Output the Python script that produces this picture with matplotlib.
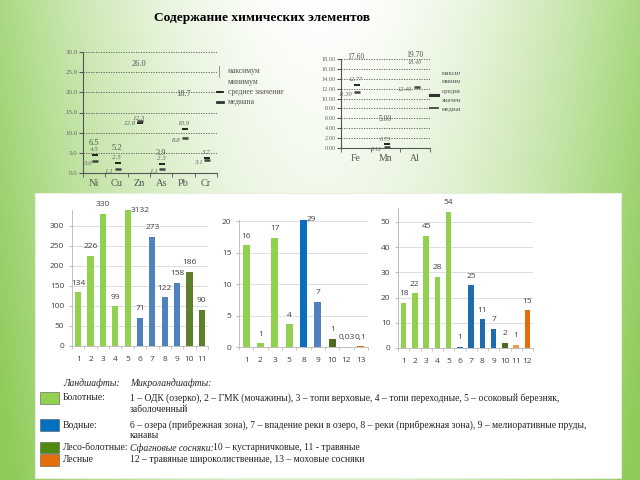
import numpy as np
import matplotlib
matplotlib.use('Agg')
import matplotlib.pyplot as plt
from matplotlib.patches import Rectangle

W, H = 640, 480
SERIF = 'Liberation Serif'
SANS = 'Open Sans'

# ---- top-left inset: heavy metals (max / mean / median)
tl_elements = ['Ni', 'Cu', 'Zn', 'As', 'Pb', 'Cr']
tl_max = [6.5, 5.2, 26.0, 3.9, 18.7, np.nan]
tl_mean = [4.5, 2.5, 12.3, 2.3, 10.9, 3.70]
tl_median = [3.0, 1.1, 12.8, 1.1, 8.8, 3.10]

# ---- top-right inset: Fe, Mn, Al
tr_elements = ['Fe', 'Mn', 'Al']
tr_max = [17.60, 5.0, 19.7]
tr_mean = [12.77, 0.73, 18.4]
tr_median = [11.30, 0.12, 12.4]

# ---- bottom bar charts
b1_cats = ['1', '2', '3', '4', '5', '6', '7', '8', '9', '10', '11']
b1_vals = [134, 226, 330, 99, 3132, 71, 273, 122, 158, 186, 90]
b1_lbls = ['134', '226', '330', '99', '3132', '71', '273', '122', '158', '186', '90']

b2_cats = ['1', '2', '3', '5', '8', '9', '10', '12', '13']
b2_vals = [16.2, 0.6, 17.4, 3.6, 29, 7.2, 1.3, 0.03, 0.1]
b2_lbls = ['16', '1', '17', '4', '29', '7', '1', '0,03', '0,1']

b3_cats = ['1', '2', '3', '4', '5', '6', '7', '8', '9', '10', '11', '12']
b3_vals = [18, 21.7, 44.5, 28.3, 54, 0.4, 24.8, 11.3, 7.6, 2.0, 1.2, 15]
b3_lbls = ['18', '22', '45', '28', '54', '1', '25', '11', '7', '2', '1', '15']

LG, BL, DB, OL, OR = '#92D050', '#4F81BD', '#0A6DBF', '#4F6B22', '#E46C0A'
b1_cols = [LG] * 5 + [BL] * 4 + ['#5F7F2C'] * 2
b2_cols = [LG] * 4 + [DB, BL, OL, OR, OR]
b3_cols = [LG] * 5 + ['#1F6BB0'] * 4 + [OL, '#F79646', OR]

fig = plt.figure(figsize=(6.4, 4.8), dpi=100)


def px_axes(x0, y0, x1, y1):
    return fig.add_axes([x0 / W, 1 - y1 / H, (x1 - x0) / W, (y1 - y0) / H])


def ftext(x, y, s, **kw):
    fig.text(x / W, 1 - y / H, s, **kw)


# background gradient
bg = fig.add_axes([0, 0, 1, 1], zorder=-10)
gx, gy = np.meshgrid(np.linspace(0, 1, 320), np.linspace(0, 1, 240))
t = np.clip(np.abs(gx - 0.5) * 2, 0, 1) ** 1.8 * 0.75 + gy * 0.3
t = np.clip(t, 0, 1)[..., None]
green = np.array([0.56, 0.80, 0.35])
bg.imshow((1 - t) + t * green, aspect='auto', extent=[0, 1, 0, 1])
bg.add_patch(Rectangle((35 / W, 1 - 478 / H), 586 / W, 285 / H,
                       facecolor='white', edgecolor='#e8f0dc', lw=0.8))
bg.set_xlim(0, 1)
bg.set_ylim(0, 1)
bg.axis('off')

ftext(262, 18, 'Содержание химических элементов', family=SERIF,
      fontsize=9.6, fontweight='bold', ha='center', va='center')


def stock_axes(rect, cats, vmax, vmean, vmed, ylim, yticks, fmt, fs):
    ax = px_axes(*rect)
    ax.patch.set_alpha(0)
    x = np.arange(len(cats))
    ax.set_xlim(-0.5, len(cats) - 0.5)
    ax.set_ylim(*ylim)
    for y in yticks[1:]:
        ax.axhline(y, color='#555555', lw=0.6, ls=(0, (1.5, 1.5)))
    ax.plot(x + 0.05, vmean, ls='none', marker='_', ms=4, mew=1.2, color='black')
    ax.plot(x + 0.05, vmed, ls='none', marker='_', ms=4, mew=1.8, color='#444444')
    for xi, a, m, d in zip(x, vmax, vmean, vmed):
        if not np.isnan(a):
            ax.text(xi, min(a, ylim[1]), fmt.format(a), fontsize=fs + 1, family=SERIF,
                    color='#555555', ha='center', va='bottom')
        top = m >= ylim[1] * 0.9
        ax.annotate(fmt.format(m), (xi, min(m, ylim[1])), xytext=(0, -1 if top else 2),
                    textcoords='offset points', fontsize=fs, family=SERIF,
                    style='italic', color='#666666', ha='center',
                    va='top' if top else 'bottom')
        ax.text(xi - 0.12, d, fmt.format(d), fontsize=fs, family=SERIF,
                style='italic', color='#666666', ha='right', va='top')
    ax.set_yticks(yticks)
    ax.set_xticks(x, cats)
    ax.set_xticks(np.arange(len(cats) + 1) - 0.5, minor=True)
    ax.tick_params(axis='x', which='major', length=0, labelsize=fs + 2.5, pad=4,
                   labelcolor='#555555')
    ax.tick_params(axis='x', which='minor', length=3, color='#555555')
    ax.tick_params(axis='y', length=3, labelsize=fs, labelcolor='#666666',
                   color='#555555', pad=1)
    for s in ['top', 'right']:
        ax.spines[s].set_visible(False)
    for s in ['left', 'bottom']:
        ax.spines[s].set_color('#555555')
        ax.spines[s].set_linewidth(0.8)
    return ax


ax = stock_axes((83, 52, 217, 173), tl_elements, tl_max, tl_mean, tl_median,
                (0, 30), np.arange(0, 31, 5), '{:.1f}', 5)
ax.set_yticklabels(['{:.1f}'.format(v) for v in np.arange(0, 31, 5)])
for lab in ax.get_xticklabels() + ax.get_yticklabels():
    lab.set_family(SERIF)

ax = stock_axes((341, 59, 430, 148), tr_elements, tr_max, tr_mean, tr_median,
                (0, 18), np.arange(0, 19, 2), '{:.2f}', 4.5)
ax.set_yticklabels(['{:.2f}'.format(v) for v in np.arange(0, 19, 2)])
for lab in ax.get_xticklabels() + ax.get_yticklabels():
    lab.set_family(SERIF)

# top-left legend
lg = dict(family=SERIF, fontsize=5.5, color='#555555', va='center')
fig.add_artist(plt.Line2D([219 / W, 219 / W], [1 - 66 / H, 1 - 77 / H], color='#888888', lw=0.6))
ftext(228, 71, 'максимум', **lg)
ftext(228, 82, 'минимум', **lg)
fig.add_artist(plt.Line2D([217 / W, 223 / W], [1 - 92 / H] * 2, color='black', lw=1.2))
ftext(228, 92, 'среднее значение', **lg)
fig.add_artist(plt.Line2D([217 / W, 223 / W], [1 - 102 / H] * 2, color='#333333', lw=2))
ftext(228, 102, 'медиана', **lg)

# top-right legend (cut at the slide edge)
cl = px_axes(428, 60, 460, 120)
cl.axis('off')
cl.set_xlim(428, 460)
cl.set_ylim(120, 60)
for yy, s in zip([73, 82, 92, 100, 110],
                 ['максимум', 'минимум', 'среднее', 'значение', 'медиана']):
    cl.text(442, yy, s, family=SERIF, fontsize=5, color='#555555', va='center', clip_on=True)
cl.plot([430, 438], [95, 95], color='#333333', lw=2.2, clip_on=False)
cl.plot([430, 438], [108, 108], color='#333333', lw=1.2, clip_on=False)


def bar_axes(rect, cats, vals, lbls, cols, ylim, yticks):
    ax = px_axes(*rect)
    ax.patch.set_alpha(0)
    x = np.arange(len(cats))
    ax.bar(x, vals, width=0.5, color=cols, zorder=3)
    ax.set_xlim(-0.5, len(cats) - 0.5)
    ax.set_ylim(*ylim)
    ax.set_yticks(yticks)
    ax.set_xticks(x, cats)
    ax.set_xticks(np.arange(len(cats) + 1) - 0.5, minor=True)
    ax.grid(axis='y', color='#d9d9d9', lw=0.6, zorder=0)
    for xi, v, s in zip(x, vals, lbls):
        if v > ylim[1]:
            ax.text(xi + 0.25, ylim[1], s, fontsize=6, family=SANS, color='#404040',
                    ha='left', va='center')
        else:
            ax.annotate(s, (xi, v), xytext=(0, 4), textcoords='offset points',
                        fontsize=6, family=SANS, color='#404040', ha='center', va='bottom')
    ax.tick_params(axis='x', which='major', length=0, labelsize=6, pad=7, labelcolor='#404040')
    ax.tick_params(axis='x', which='minor', length=2.5, color='#bfbfbf')
    ax.tick_params(axis='y', length=2.5, labelsize=6, labelcolor='#404040', color='#bfbfbf', pad=3)
    for lab in ax.get_xticklabels() + ax.get_yticklabels():
        lab.set_family(SANS)
    for s in ['top', 'right']:
        ax.spines[s].set_visible(False)
    for s in ['left', 'bottom']:
        ax.spines[s].set_color('#bfbfbf')
        ax.spines[s].set_linewidth(0.7)
    return ax


bar_axes((72, 210, 208, 346), b1_cats, b1_vals, b1_lbls, b1_cols, (0, 340), range(0, 301, 50))
bar_axes((239, 220, 368, 347), b2_cats, b2_vals, b2_lbls, b2_cols, (0, 20.2), range(0, 21, 5))
bar_axes((398, 208, 533, 348), b3_cats, b3_vals, b3_lbls, b3_cols, (0, 55.5), range(0, 51, 10))

# bottom legend
for y0, y1, c in [(392, 404, LG), (419, 431, '#0070C0'), (442, 453, '#4F8A10'), (454, 466, OR)]:
    fig.add_artist(Rectangle((40 / W, 1 - y1 / H), 19 / W, (y1 - y0) / H,
                             transform=fig.transFigure, facecolor=c, edgecolor='#555555', lw=0.4))
tx = dict(family=SERIF, fontsize=6.9, color='#222222', va='center')
ftext(63, 383, 'Ландшафты:', style='italic', **tx)
ftext(130, 383, 'Микроландшафты:', style='italic', **tx)
ftext(63, 398, 'Болотные:', **tx)
ftext(130, 398, '1 – ОДК (озерко), 2 – ГМК (мочажины), 3 – топи верховые, '
      '4 – топи переходные, 5 – осоковый березняк,', **tx)
ftext(130, 409, 'заболоченный', **tx)
ftext(63, 425, 'Водные:', **tx)
ftext(130, 425, '6 – озера (прибрежная зона), 7 – впадение реки в озеро, '
      '8 – реки (прибрежная зона), 9 – мелиоративные пруды,', **tx)
ftext(130, 436, 'канавы', **tx)
ftext(63, 448, 'Лесо-болотные:', **tx)
ftext(130, 448, 'Сфагновые сосняки:', style='italic', **tx)
ftext(213, 448, '10 – кустарничковые, 11 - травяные', **tx)
ftext(63, 460, 'Лесные', **tx)
ftext(130, 460, '12 – травяные широколиственные, 13 – моховые сосняки', **tx)

fig.savefig('out.png', dpi=100)
